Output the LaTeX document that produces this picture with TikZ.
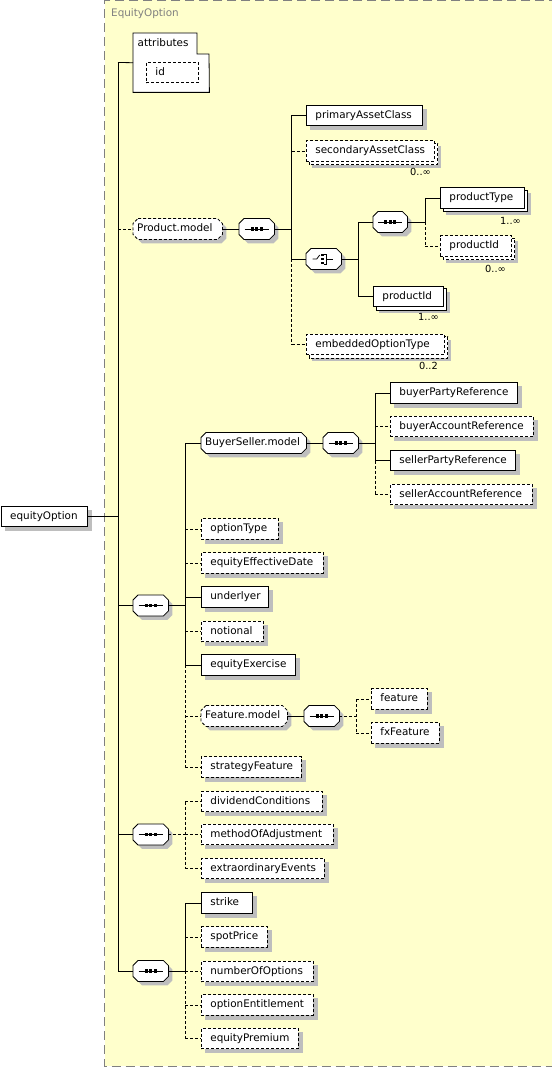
\documentclass[tikz,border=0pt]{standalone}
\usepackage{fontspec}
\setmainfont{DejaVu Sans}
\definecolor{bgy}{RGB}{255,255,204}
\definecolor{shd}{RGB}{190,190,190}
\definecolor{frm}{RGB}{128,128,128}
\pgfdeclarelayer{back}
\pgfdeclarelayer{mid}
\pgfsetlayers{back,mid,main}
\tikzset{
  lbl/.style={font=\fontsize{10.4}{12}\selectfont},
  eb/.style={draw=black, fill=white, line width=0.8pt},
  ob/.style={eb, dash pattern=on 3pt off 2pt},
  boxn/.style={minimum height=20.5pt, inner xsep=9pt, inner ysep=0pt, anchor=west, lbl, text height=8pt, text depth=2.2pt},
  el/.style={eb, boxn},
  opt/.style={ob, boxn},
  grp/.style={boxn, inner xsep=4pt},
  con/.style={line width=0.8pt},
  ocon/.style={con, dash pattern=on 3pt off 2pt},
  card/.style={font=\fontsize{9.8}{11}\selectfont, anchor=north east, inner sep=0pt},
}
\newcommand\shad[2]{\begin{pgfonlayer}{back}\fill[shd] ([shift={(#2,-#2)}]#1.south west) rectangle ([shift={(#2,-#2)}]#1.north east);\end{pgfonlayer}}
\newcommand\cpy[2]{\begin{pgfonlayer}{mid}\path[#2] ([shift={(3,-3)}]#1.south west) rectangle ([shift={(3,-3)}]#1.north east);\end{pgfonlayer}}
\newcommand\bx[6]{\node[#2, minimum width=#5pt] (#1) at (#3,#4) {\makebox[\dimexpr#5pt-18pt\relax][l]{#6}};\shad{#1}{4}}
\newcommand\bxm[7]{\node[#2, minimum width=#6pt] (#1) at (#4,#5) {\makebox[\dimexpr#6pt-18pt\relax][l]{#7}};\cpy{#1}{#3}\shad{#1}{6}}
\newcommand\chamf[4]{\path[#2] ([shift={(#3+5,#4)}]#1.north west) -- ([shift={(#3-5,#4)}]#1.north east) -- ([shift={(#3,#4-5)}]#1.north east) -- ([shift={(#3,#4+5)}]#1.south east) -- ([shift={(#3-5,#4)}]#1.south east) -- ([shift={(#3+5,#4)}]#1.south west) -- ([shift={(#3,#4+5)}]#1.south west) -- ([shift={(#3,#4-5)}]#1.north west) -- cycle;}
\newcommand\chamfshape[2]{\begin{pgfonlayer}{back}\chamf{#1}{fill=shd}{4}{-4}\end{pgfonlayer}\begin{pgfonlayer}{mid}\chamf{#1}{#2}{0}{0}\end{pgfonlayer}}
\newcommand\gp[6]{\node[grp, minimum width=#5pt] (#1) at (#3,#4) {\makebox[\dimexpr#5pt-8pt\relax][l]{#6}};\chamfshape{#1}{#2}}
\newcommand\cmp[4]{\node[grp, minimum width=#4pt] (#1) at (#2,#3) {};\chamfshape{#1}{eb}}
\newcommand\seqs[1]{\draw[con] ([xshift=-12]#1.center) -- ([xshift=12]#1.center);
  \foreach \dd in {-4.5,0,4.5}{\fill ([shift={(\dd-1.6,-1.6)}]#1.center) rectangle ([shift={(\dd+1.6,1.6)}]#1.center);}}
\newcommand\chs[1]{\draw[con] ([xshift=-11]#1.center) -- ([xshift=-7]#1.center) -- ([shift={(-4,4)}]#1.center);
  \draw[con] ([shift={(0,5)}]#1.center) -- ([shift={(3,5)}]#1.center) -- ([shift={(3,-5)}]#1.center) -- ([shift={(0,-5)}]#1.center);
  \draw[con] ([shift={(3,0)}]#1.center) -- ([shift={(9,0)}]#1.center);
  \foreach \dd in {-4,0,4}{\fill ([shift={(-2.8,\dd-1.3)}]#1.center) rectangle ([shift={(-0.2,\dd+1.3)}]#1.center);}}
\begin{document}
\begin{tikzpicture}[x=1pt,y=1pt]
\useasboundingbox (0,0) rectangle (551,-1067);
\begin{pgfonlayer}{back}
\fill[bgy] (104.5,-0.5) rectangle (600,-1066);
\draw[draw=frm, line width=1pt, dash pattern=on 9pt off 5pt] (600,-0.5) -- (104.5,-0.5) -- (104.5,-1066) -- (600,-1066);
\end{pgfonlayer}
\node[lbl, text=frm, anchor=base west, inner sep=0pt] (title) at (111,-17) {EquityOption};

% attributes
\node[inner sep=0pt, minimum width=76pt, minimum height=59pt, anchor=north west] (attr) at (133,-33) {};
\draw[eb] (attr.north west) -- ++(64,0) -- ++(0,-21) -- ++(12,0) -- (attr.south east) -- (attr.south west) -- cycle;
\node[lbl, anchor=base west, inner sep=0pt] (attrl) at (137.5,-47) {attributes};
\bx{id}{opt}{146}{-72.5}{52}{id}

% root
\bx{eo}{el}{0.8}{-516.5}{86}{equityOption}
\coordinate (t0) at (118,-62.5);
\coordinate (t1) at (118,-971);
\draw[con] (t0) -- (t1);
\draw[con] (eo.east) -- (t0 |- eo.east);
\draw[con] (t0) -- (attr.west);

% Product.model
\gp{pm}{ob}{133}{-229}{89}{Product.model}
\cmp{spm}{239}{-229}{35}\seqs{spm}
\draw[ocon] (t0 |- pm.west) -- (pm.west);
\draw[con] (pm.east) -- (spm.west);
\coordinate (j1) at (291.5,-229);
\draw[con] (spm.east) -- (j1);
\bx{pac}{el}{306}{-115.5}{116}{primaryAssetClass}
\bxm{sac}{opt}{ob}{306}{-151}{128}{secondaryAssetClass}
\node[card] (c1) at (431,-168) {0..∞};
\cmp{ch}{306}{-259}{35}\chs{ch}
\bxm{eot}{opt}{ob}{306}{-344.5}{138}{embeddedOptionType}
\node[card] (c5) at (438,-362) {0..2};
\draw[con] (j1 |- pac.west) -- (j1 |- ch.west);
\draw[ocon] (j1 |- ch.west) -- (j1 |- eot.west);
\draw[con] (j1 |- pac.west) -- (pac.west);
\draw[ocon] (j1 |- sac.west) -- (sac.west);
\draw[con] (j1 |- ch.west) -- (ch.west);
\draw[ocon] (j1 |- eot.west) -- (eot.west);

% choice
\coordinate (j2) at (358,-259);
\draw[con] (ch.east) -- (j2);
\cmp{sq2}{373}{-222}{34}\seqs{sq2}
\bxm{pid1}{el}{eb}{373}{-296.5}{70}{productId}
\node[card] (c4) at (439,-313) {1..∞};
\draw[con] (j2 |- sq2.west) -- (j2 |- pid1.west);
\draw[con] (j2 |- sq2.west) -- (sq2.west);
\draw[con] (j2 |- pid1.west) -- (pid1.west);
\coordinate (j3) at (425,-222);
\draw[con] (sq2.east) -- (j3);
\bxm{pt}{el}{eb}{440}{-198}{84}{productType}
\node[card] (c2) at (521,-217.5) {1..∞};
\bxm{pid2}{opt}{ob}{440}{-246}{71}{productId}
\node[card] (c3) at (506,-265) {0..∞};
\draw[con] (j3 |- pt.west) -- (j3);
\draw[ocon] (j3) -- (j3 |- pid2.west);
\draw[con] (j3 |- pt.west) -- (pt.west);
\draw[ocon] (j3 |- pid2.west) -- (pid2.west);

% first sequence
\cmp{s1}{133}{-605.5}{35}\seqs{s1}
\draw[con] (t0 |- s1.west) -- (s1.west);
\coordinate (j5) at (185,-605.5);
\draw[con] (s1.east) -- (j5);
\gp{bsm}{eb}{201}{-443}{105}{BuyerSeller.model}
\bx{ot}{opt}{201}{-529}{77}{optionType}
\bx{eed}{opt}{201}{-563}{122}{equityEffectiveDate}
\bx{und}{el}{201}{-597}{67}{underlyer}
\bx{notl}{opt}{201}{-631.5}{62}{notional}
\bx{eex}{el}{201}{-665}{94}{equityExercise}
\gp{fm}{ob}{201}{-716}{86}{Feature.model}
\bx{sf}{opt}{201}{-767}{100}{strategyFeature}
\draw[con] (j5 |- bsm.west) -- (j5 |- eex.west);
\draw[ocon] (j5 |- eex.west) -- (j5 |- sf.west);
\draw[con] (j5 |- bsm.west) -- (bsm.west);
\draw[ocon] (j5 |- ot.west) -- (ot.west);
\draw[ocon] (j5 |- eed.west) -- (eed.west);
\draw[con] (j5 |- und.west) -- (und.west);
\draw[ocon] (j5 |- notl.west) -- (notl.west);
\draw[con] (j5 |- eex.west) -- (eex.west);
\draw[ocon] (j5 |- fm.west) -- (fm.west);
\draw[ocon] (j5 |- sf.west) -- (sf.west);

% BuyerSeller.model
\cmp{bsq}{323}{-443}{35}\seqs{bsq}
\draw[con] (bsm.east) -- (bsq.west);
\coordinate (j4) at (375,-443);
\draw[con] (bsq.east) -- (j4);
\bx{bpr}{el}{390}{-393}{127}{buyerPartyReference}
\bx{bar}{opt}{390}{-426.5}{143}{buyerAccountReference}
\bx{spr}{el}{390}{-460.5}{125}{sellerPartyReference}
\bx{sar}{opt}{390}{-494.5}{142}{sellerAccountReference}
\draw[con] (j4 |- bpr.west) -- (j4 |- spr.west);
\draw[ocon] (j4 |- spr.west) -- (j4 |- sar.west);
\draw[con] (j4 |- bpr.west) -- (bpr.west);
\draw[ocon] (j4 |- bar.west) -- (bar.west);
\draw[con] (j4 |- spr.west) -- (spr.west);
\draw[ocon] (j4 |- sar.west) -- (sar.west);

% Feature.model
\cmp{fsq}{304}{-716}{35}\seqs{fsq}
\draw[con] (fm.east) -- (fsq.west);
\coordinate (j6) at (356,-716);
\draw[ocon] (fsq.east) -- (j6);
\bx{feat}{opt}{371}{-699}{56}{feature}
\bx{fxf}{opt}{371}{-733}{68}{fxFeature}
\draw[ocon] (j6 |- feat.west) -- (j6 |- fxf.west);
\draw[ocon] (j6 |- feat.west) -- (feat.west);
\draw[ocon] (j6 |- fxf.west) -- (fxf.west);

% second sequence
\cmp{s2}{133}{-834.5}{35}\seqs{s2}
\draw[con] (t0 |- s2.west) -- (s2.west);
\coordinate (j7) at (185,-834.5);
\draw[ocon] (s2.east) -- (j7);
\bx{dc}{opt}{201}{-801.5}{121}{dividendConditions}
\bx{moa}{opt}{201}{-834.5}{132}{methodOfAdjustment}
\bx{ee}{opt}{201}{-868.5}{123}{extraordinaryEvents}
\draw[ocon] (j7 |- dc.west) -- (j7 |- ee.west);
\draw[ocon] (j7 |- dc.west) -- (dc.west);
\draw[ocon] (j7 |- moa.west) -- (moa.west);
\draw[ocon] (j7 |- ee.west) -- (ee.west);

% third sequence
\cmp{s3}{133}{-971}{35}\seqs{s3}
\draw[con] (t0 |- s3.west) -- (s3.west);
\coordinate (j8) at (185,-971);
\draw[con] (s3.east) -- (j8);
\bx{stk}{el}{201}{-903}{51}{strike}
\bx{sp}{opt}{201}{-937}{66}{spotPrice}
\bx{noo}{opt}{201}{-971.5}{112}{numberOfOptions}
\bx{oe}{opt}{201}{-1005}{112}{optionEntitlement}
\bx{ep}{opt}{201}{-1038.5}{97}{equityPremium}
\draw[con] (j8 |- stk.west) -- (j8);
\draw[ocon] (j8) -- (j8 |- ep.west);
\draw[con] (j8 |- stk.west) -- (stk.west);
\draw[ocon] (j8 |- sp.west) -- (sp.west);
\draw[ocon] (j8 |- noo.west) -- (noo.west);
\draw[ocon] (j8 |- oe.west) -- (oe.west);
\draw[ocon] (j8 |- ep.west) -- (ep.west);
\end{tikzpicture}
\end{document}
